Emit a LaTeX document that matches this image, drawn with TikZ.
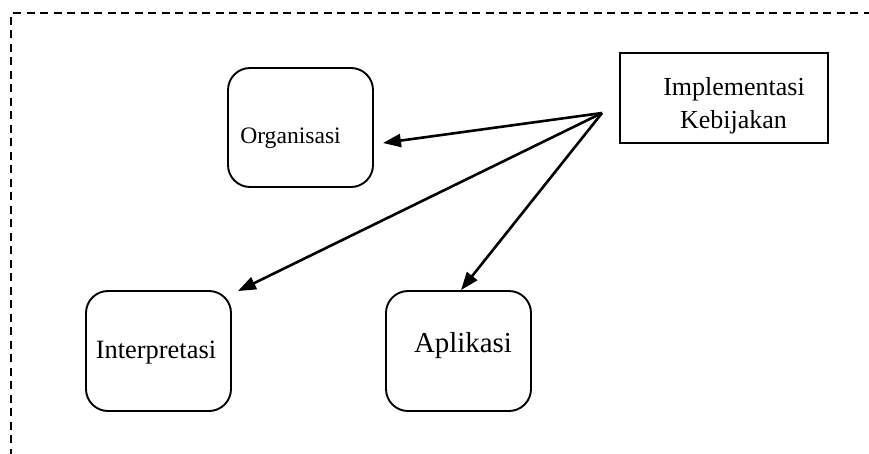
\documentclass[tikz,border=0pt]{standalone}
\usepackage{fontspec}
\setmainfont{Liberation Serif}
\usetikzlibrary{arrows.meta}

\tikzset{
  roundbox/.style={draw, line width=1.9pt, rounded corners=22pt, inner sep=0pt},
  plainbox/.style={draw, line width=1.9pt, inner sep=0pt},
  caption/.style={inner sep=0pt, anchor=base},
  link/.style={line width=2.6pt, -{Triangle[length=18pt,width=13pt]}},
  frameline/.style={line width=2pt, dash pattern=on 8pt off 5.5pt}
}

\begin{document}
\begin{tikzpicture}[x=1pt, y=-1pt]
  \useasboundingbox (0,0) rectangle (869,453);
  \clip (0,0) rectangle (869,453);

  % outer dashed frame (continues past the right and bottom edges)
  \draw[frameline] (11,470) -- (11,13) -- (890,13);

  % boxes
  \node[roundbox, minimum width=145pt, minimum height=119pt] (org) at (300.5,127.5) {};
  \node[roundbox, minimum width=145pt, minimum height=120pt] (interp) at (158.5,351) {};
  \node[roundbox, minimum width=145pt, minimum height=120pt] (apl) at (458.5,351) {};
  \node[plainbox, minimum width=208pt, minimum height=90pt] (impl) at (724,98) {};

  % labels
  \node[caption, font=\fontsize{23.6}{28}\selectfont] (orgtext) at (290.5,143) {Organisasi};
  \node[caption, font=\fontsize{26.4}{30}\selectfont] (interptext) at (156,358) {Interpretasi};
  \node[caption, font=\fontsize{28.9}{33}\selectfont] (apltext) at (463,352) {Aplikasi};
  \node[caption, font=\fontsize{26}{33}\selectfont] (impltexta) at (734,95) {Implementasi};
  \node[caption, font=\fontsize{26}{33}\selectfont] (impltextb) at (733.5,128) {Kebijakan};

  % connectors from the common starting point
  \coordinate (hub) at ([shift={(-17,15)}]impl.west);
  \draw[link] (hub) -- ([shift={(9,15.5)}]org.east);
  \draw[link] (hub) -- ([shift={(6,1)}]interp.north east);
  \draw[link] (hub) -- ([shift={(2.5,0)}]apl.north);
\end{tikzpicture}
\end{document}
